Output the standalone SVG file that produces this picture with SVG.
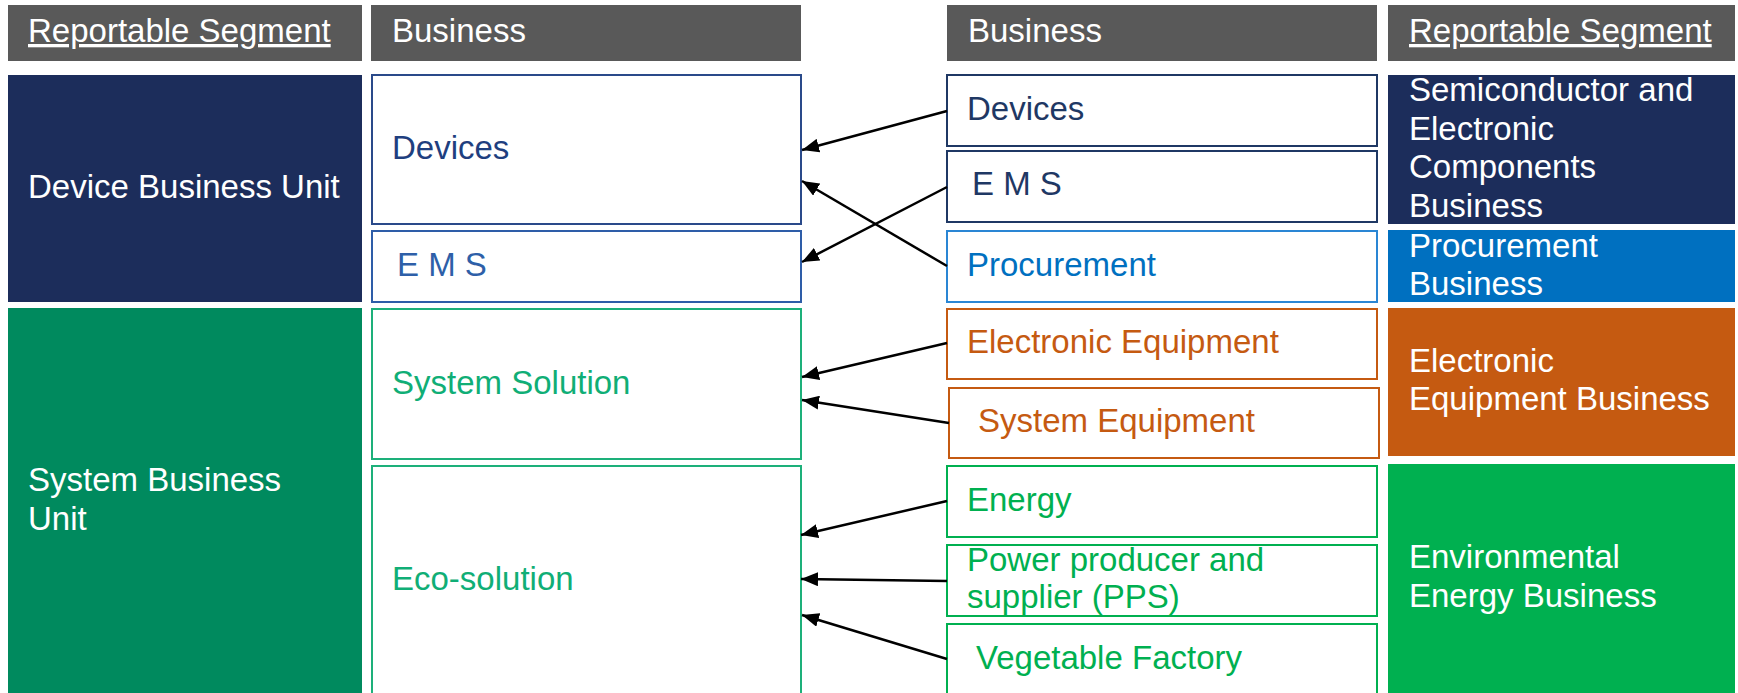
<svg xmlns="http://www.w3.org/2000/svg" width="1738" height="693" viewBox="0 0 1738 693">
<style>
text{font-family:"Liberation Sans",Arial,sans-serif;font-size:33px}
.hdr{fill:#595959}
.w{fill:#fff}
.u{text-decoration:underline}
.box{fill:#fff;stroke-width:2}
.arrow{stroke:#000;stroke-width:2.5;fill:none;marker-end:url(#ah)}
</style>
<defs>
<marker id="ah" markerUnits="userSpaceOnUse" markerWidth="18" markerHeight="14" refX="17" refY="7" orient="auto">
<path d="M0,0 L17,7 L0,14 Z" fill="#000"/>
</marker>
</defs>
<rect width="1738" height="693" fill="#fff"/>
<g id="header-left-segment"><rect class="hdr" x="8" y="5" width="354" height="56"/><text class="w u" x="28" y="42">Reportable Segment</text></g>
<g id="header-left-business"><rect class="hdr" x="371" y="5" width="430" height="56"/><text class="w" x="392" y="42">Business</text></g>
<g id="header-right-business"><rect class="hdr" x="947" y="5" width="430" height="56"/><text class="w" x="968" y="42">Business</text></g>
<g id="header-right-segment"><rect class="hdr" x="1388" y="5" width="347" height="56"/><text class="w u" x="1409" y="42">Reportable Segment</text></g>

<g id="device-business-unit"><rect x="8" y="75" width="354" height="227" fill="#1C2D5B"/><text class="w" x="28" y="198">Device Business Unit</text></g>
<g id="system-business-unit"><rect x="8" y="308" width="354" height="390" fill="#008A5E"/><text class="w" x="28" y="491">System Business</text><text class="w" x="28" y="530">Unit</text></g>

<g id="mid-devices"><rect class="box" x="372" y="75" width="429" height="149" stroke="#2A4A8A"/><text x="392" y="159" fill="#1F3F7F">Devices</text></g>
<g id="mid-ems"><rect class="box" x="372" y="231" width="429" height="71" stroke="#2E5DA8"/><text x="397" y="276" fill="#2E5FA8">E M S</text></g>
<g id="mid-system-solution"><rect class="box" x="372" y="309" width="429" height="150" stroke="#1DB07A"/><text x="392" y="394" fill="#10AE76">System Solution</text></g>
<g id="mid-eco-solution"><rect class="box" x="372" y="466" width="429" height="240" stroke="#1DB07A"/><text x="392" y="590" fill="#10AE76">Eco-solution</text></g>

<g id="r-devices"><rect class="box" x="947" y="75" width="430" height="71" stroke="#1F3864"/><text x="967" y="120" fill="#1F3864">Devices</text></g>
<g id="r-ems"><rect class="box" x="947" y="151" width="430" height="71" stroke="#1F3864"/><text x="972" y="195" fill="#1F3864">E M S</text></g>
<g id="r-procurement"><rect class="box" x="947" y="231" width="430" height="71" stroke="#2A86D4"/><text x="967" y="276" fill="#0070C0">Procurement</text></g>
<g id="r-electronic-equipment"><rect class="box" x="947" y="309" width="430" height="70" stroke="#C55A11"/><text x="967" y="353" fill="#C55A11">Electronic Equipment</text></g>
<g id="r-system-equipment"><rect class="box" x="949" y="388" width="430" height="70" stroke="#C55A11"/><text x="978" y="432" fill="#C55A11">System Equipment</text></g>
<g id="r-energy"><rect class="box" x="947" y="466" width="430" height="71" stroke="#00B050"/><text x="967" y="511" fill="#00B050">Energy</text></g>
<g id="r-pps"><rect class="box" x="947" y="545" width="430" height="71" stroke="#00B050"/><text x="967" y="571" fill="#00B050">Power producer and</text><text x="967" y="608" fill="#00B050">supplier (PPS)</text></g>
<g id="r-vegetable-factory"><rect class="box" x="947" y="624" width="430" height="80" stroke="#00B050"/><text x="976" y="669" fill="#00B050">Vegetable Factory</text></g>

<g id="seg-semiconductor"><rect x="1388" y="75" width="347" height="149" fill="#1C2D5B"/><text class="w" x="1409" y="101">Semiconductor and</text><text class="w" x="1409" y="140">Electronic</text><text class="w" x="1409" y="178">Components</text><text class="w" x="1409" y="217">Business</text></g>
<g id="seg-procurement"><rect x="1388" y="230" width="347" height="72" fill="#0070C0"/><text class="w" x="1409" y="257">Procurement</text><text class="w" x="1409" y="295">Business</text></g>
<g id="seg-electronic-equipment"><rect x="1388" y="308" width="347" height="148" fill="#C55A11"/><text class="w" x="1409" y="372">Electronic</text><text class="w" x="1409" y="410">Equipment Business</text></g>
<g id="seg-environmental-energy"><rect x="1388" y="464" width="347" height="240" fill="#00B050"/><text class="w" x="1409" y="568">Environmental</text><text class="w" x="1409" y="607">Energy Business</text></g>

<g id="connectors">
<line class="arrow" x1="947" y1="111" x2="802" y2="150"/>
<line class="arrow" x1="947" y1="187" x2="802" y2="262"/>
<line class="arrow" x1="947" y1="266" x2="802" y2="181"/>
<line class="arrow" x1="947" y1="343" x2="802" y2="377"/>
<line class="arrow" x1="949" y1="423" x2="802" y2="400"/>
<line class="arrow" x1="947" y1="501" x2="801" y2="535"/>
<line class="arrow" x1="947" y1="581" x2="801" y2="579"/>
<line class="arrow" x1="947" y1="659" x2="802" y2="615"/>
</g>
</svg>
